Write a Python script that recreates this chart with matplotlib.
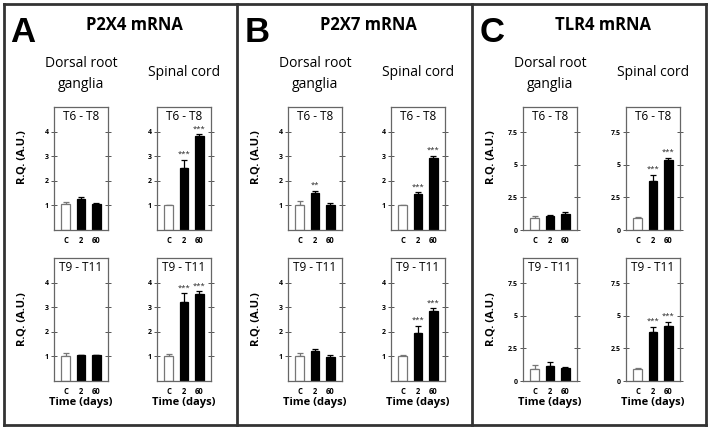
import numpy as np
import matplotlib
matplotlib.use("Agg")
import matplotlib.pyplot as plt
from matplotlib.lines import Line2D

plt.rcParams['font.family'] = ['Open Sans', 'DejaVu Sans']

W, H = 710, 429

groups = ['C', '2', '60']
panel_letters = ['A', 'B', 'C']
panel_titles = ['P2X4 mRNA', 'P2X7 mRNA', 'TLR4 mRNA']
tissues = ['Dorsal root\nganglia', 'Spinal cord']
segments = ['T6 - T8', 'T9 - T11']

# values [segment][tissue] -> C, 2, 60
p2x4_mean = [[[1.05, 1.25, 1.05], [1.0, 2.53, 3.81]],
             [[1.03, 1.04, 1.04], [1.01, 3.2, 3.55]]]
p2x4_err = [[[0.08, 0.11, 0.04], [0.02, 0.32, 0.08]],
            [[0.12, 0.02, 0.02], [0.08, 0.37, 0.1]]]
p2x4_star = [[['', '', ''], ['', '***', '***']],
             [['', '', ''], ['', '***', '***']]]

p2x7_mean = [[[1.03, 1.49, 1.03], [1.0, 1.45, 2.92]],
             [[1.0, 1.2, 0.97], [1.0, 1.95, 2.84]]]
p2x7_err = [[[0.13, 0.11, 0.05], [0.02, 0.08, 0.1]],
            [[0.12, 0.09, 0.1], [0.05, 0.29, 0.11]]]
p2x7_star = [[['', '**', ''], ['', '***', '***']],
             [['', '', ''], ['', '***', '***']]]

tlr4_mean = [[[0.9, 1.05, 1.23], [0.95, 3.79, 5.38]],
             [[0.9, 1.13, 1.0], [0.95, 3.8, 4.23]]]
tlr4_err = [[[0.18, 0.1, 0.13], [0.05, 0.45, 0.15]],
            [[0.3, 0.31, 0.08], [0.08, 0.38, 0.31]]]
tlr4_star = [[['', '', ''], ['', '***', '***']],
             [['', '', ''], ['', '***', '***']]]

all_means = [p2x4_mean, p2x7_mean, tlr4_mean]
all_errs = [p2x4_err, p2x7_err, tlr4_err]
all_stars = [p2x4_star, p2x7_star, tlr4_star]

yticks = [[1, 2, 3, 4], [1, 2, 3, 4], [0, 2.5, 5, 7.5]]
ytick_labels = [['1', '2', '3', '4'], ['1', '2', '3', '4'], ['0', '2.5', '5', '7.5']]
ylims = [5, 5, 9.45]

bar_face = ['white', 'black', 'black']
bar_edge = ['#777777', 'black', 'black']

fig = plt.figure(figsize=(W / 100, H / 100), dpi=100)


def fx(px):
    return px / W


def fy(py):
    return 1 - py / H


# panel frames
frame_kw = dict(color='#333333', lw=2, transform=fig.transFigure)
for xs, ys in [([4, 706], [4, 4]), ([4, 706], [425, 425]), ([4, 4], [4, 425]),
               ([706, 706], [4, 425]), ([237, 237], [4, 425]), ([472, 472], [4, 425])]:
    fig.add_artist(Line2D([fx(x) for x in xs], [fy(y) for y in ys], **frame_kw))

panel_x0 = [0, 234, 469]
axes_left = [54, 157]
axes_w = 54
rows_y = [(107, 230), (258, 381)]

for p in range(3):
    x0 = panel_x0[p]
    fig.text(fx(x0 + 23), fy(33), panel_letters[p], fontsize=25, fontweight='bold',
             ha='center', va='center', family='Liberation Sans')
    fig.text(fx(x0 + 134), fy(25), panel_titles[p], fontsize=12, fontweight='bold',
             ha='center', va='center')
    fig.text(fx(x0 + 22), fy(157), 'R.Q. (A.U.)', fontsize=8, fontweight='bold',
             rotation=90, ha='center', va='center')
    fig.text(fx(x0 + 22), fy(319), 'R.Q. (A.U.)', fontsize=8, fontweight='bold',
             rotation=90, ha='center', va='center')
    for t in range(2):
        left = x0 + axes_left[t]
        cx = left + axes_w / 2
        if t == 0:
            fig.text(fx(cx), fy(74), tissues[t], fontsize=10, ha='center', va='center',
                     linespacing=1.55)
        else:
            fig.text(fx(cx), fy(73), tissues[t], fontsize=10, ha='center', va='center')
        fig.text(fx(cx), fy(403), 'Time (days)', fontsize=8, fontweight='bold',
                 ha='center', va='center')
        for s in range(2):
            top, bot = rows_y[s]
            ax = fig.add_axes([fx(left), fy(bot), axes_w / W, (bot - top) / H])
            means = all_means[p][s][t]
            errs = all_errs[p][s][t]
            stars = all_stars[p][s][t]
            xpos = np.arange(3)
            ax.bar(xpos, means, width=0.57, color=bar_face,
                   edgecolor=bar_edge, linewidth=0.9, zorder=2)
            for i in range(3):
                ax.errorbar(xpos[i], means[i], yerr=[[0], [errs[i]]], fmt='none',
                            ecolor=bar_edge[i], elinewidth=0.9,
                            capsize=2.2, capthick=0.9, zorder=1)
                if stars[i]:
                    ax.text(xpos[i], means[i] + errs[i] + ylims[p] * 0.015, stars[i],
                            fontsize=5.5, ha='center', va='bottom', color='#222222')
            ax.set_xlim(-0.77, 2.77)
            ax.set_ylim(0, ylims[p])
            ax.set_yticks(yticks[p])
            ax.set_yticklabels(ytick_labels[p], fontsize=5, fontweight='bold')
            ax.set_xticks(xpos)
            ax.set_xticklabels(groups, fontsize=5.5, fontweight='bold')
            ax.tick_params(axis='x', length=0, pad=4)
            ax.tick_params(axis='y', which='both', direction='inout', length=4,
                           width=0.7, color='#555555', pad=2, right=True)
            ax.tick_params(axis='y', which='both', labelright=False)
            for sp in ax.spines.values():
                sp.set_color('#666666')
                sp.set_linewidth(0.9)
            ax.text(0.5, 0.92, segments[s], transform=ax.transAxes, fontsize=8.5,
                    ha='center', va='center')

fig.savefig('out.png', dpi=100)
